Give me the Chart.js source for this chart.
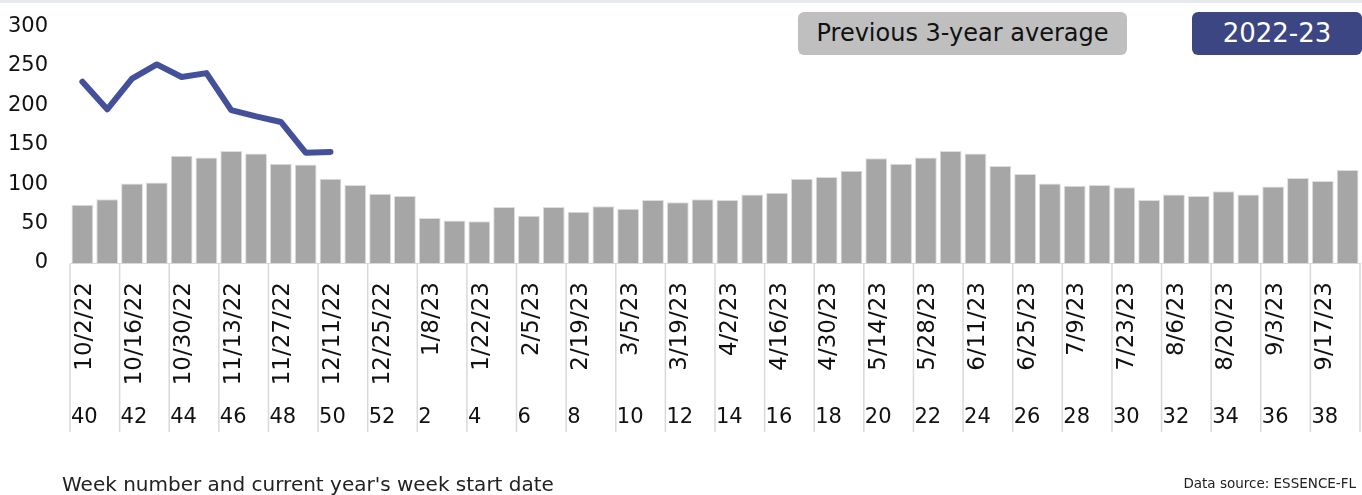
<!DOCTYPE html>
<html>
<head>
<meta charset="utf-8">
<script src="https://cdn.jsdelivr.net/npm/chart.js@4/dist/chart.umd.min.js"></script>
<style>
  html, body { margin: 0; padding: 0; background: #fff; }
  #wrap { position: relative; width: 1362px; height: 495px; overflow: hidden; }
  #topline { position: absolute; left: 0; top: 0; width: 1362px; height: 3px; background: #e6eaee; }
  canvas { position: absolute; left: 0; top: 0; }
  .key { position: absolute; top: 12px; height: 43px; border-radius: 6px; font-family: "DejaVu Sans", sans-serif;
         font-size: 24px; line-height: 43px; text-align: center; }
  #keyAvg { left: 798px; width: 329px; background: #bfbfbf; color: #111; }
  #keyCur { left: 1192px; width: 170px; background: #3b4683; color: #fff; font-size: 26px; }
  .note { position: absolute; font-family: "DejaVu Sans", sans-serif; color: #222; }
  #xtitle { left: 62px; top: 472px; font-size: 20px; }
  #source { right: 6px; top: 475px; font-size: 13.5px; }
</style>
</head>
<body>
<div id="wrap">
  <div id="topline"></div>
  <canvas id="flu-chart" width="1362" height="495"></canvas>
  <div class="key" id="keyAvg">Previous 3-year average</div>
  <div class="key" id="keyCur">2022-23</div>
  <div class="note" id="xtitle">Week number and current year's week start date</div>
  <div class="note" id="source">Data source: ESSENCE-FL</div>
</div>
<script>
var weekNumbers = [40, 41, 42, 43, 44, 45, 46, 47, 48, 49, 50, 51, 52,
  1, 2, 3, 4, 5, 6, 7, 8, 9, 10, 11, 12, 13, 14, 15, 16, 17, 18, 19, 20,
  21, 22, 23, 24, 25, 26, 27, 28, 29, 30, 31, 32, 33, 34, 35, 36, 37, 38, 39];

var weekDates = ["10/2/22", "10/9/22", "10/16/22", "10/23/22", "10/30/22", "11/6/22",
  "11/13/22", "11/20/22", "11/27/22", "12/4/22", "12/11/22", "12/18/22", "12/25/22",
  "1/1/23", "1/8/23", "1/15/23", "1/22/23", "1/29/23", "2/5/23", "2/12/23", "2/19/23",
  "2/26/23", "3/5/23", "3/12/23", "3/19/23", "3/26/23", "4/2/23", "4/9/23", "4/16/23",
  "4/23/23", "4/30/23", "5/7/23", "5/14/23", "5/21/23", "5/28/23", "6/4/23", "6/11/23",
  "6/18/23", "6/25/23", "7/2/23", "7/9/23", "7/16/23", "7/23/23", "7/30/23", "8/6/23",
  "8/13/23", "8/20/23", "8/27/23", "9/3/23", "9/10/23", "9/17/23", "9/24/23"];

// previous 3-year average (bars)
var prevAverage = [74, 81, 101, 102, 136, 134, 142, 139, 126, 125, 107, 99, 88,
  85, 57, 54, 53, 71, 60, 71, 65, 72, 69, 80, 77, 81, 80, 87, 89, 107, 109, 117,
  133, 126, 134, 142, 139, 123, 113, 101, 98, 99, 96, 80, 87, 85, 91, 87, 97, 108, 104, 118];

// current season so far (line)
var season2223 = [230, 195, 234, 252, 236, 241, 194, 186, 179, 140, 141];

var yTicks = [0, 50, 100, 150, 200, 250, 300];

var xLabelPlugin = {
  id: 'xLabels',
  afterDraw: function(chart) {
    var ctx = chart.ctx;
    var xs = chart.scales.x;
    var half = xs.width / weekNumbers.length / 2;
    var top = chart.chartArea.bottom;
    ctx.save();
    ctx.strokeStyle = '#d9d9d9';
    ctx.lineWidth = 1.5;
    for (var i = 0; i <= weekNumbers.length; i += 2) {
      var bx = i < weekNumbers.length ? xs.getPixelForValue(i) - half : xs.getPixelForValue(i - 1) + half;
      ctx.beginPath();
      ctx.moveTo(bx, top + 1);
      ctx.lineTo(bx, 432);
      ctx.stroke();
      if (i >= weekNumbers.length) continue;
      ctx.fillStyle = '#111';
      ctx.textBaseline = 'middle';
      ctx.font = '21px "DejaVu Sans", sans-serif';
      ctx.textAlign = 'left';
      ctx.fillText(String(weekNumbers[i]), bx + 1, 418);
      ctx.save();
      ctx.translate(bx + 15, 282);
      ctx.rotate(-Math.PI / 2);
      ctx.font = '23px "DejaVu Sans", sans-serif';
      ctx.textAlign = 'right';
      ctx.fillText(weekDates[i], 0, 0);
      ctx.restore();
    }
    ctx.restore();
  }
};

var ctx = document.getElementById("flu-chart").getContext("2d");
var fluChart = new Chart(ctx, {
  type: 'bar',
  data: {
    labels: weekNumbers,
    datasets: [
      {
        type: 'line',
        label: '2022-23',
        data: season2223,
        borderColor: '#44519a',
        borderWidth: 6,
        pointRadius: 0,
        borderCapStyle: 'round',
        borderJoinStyle: 'round',
        tension: 0,
        order: 0
      },
      {
        label: 'Previous 3-year average',
        data: prevAverage,
        backgroundColor: '#a6a6a6',
        borderColor: '#dedede',
        borderWidth: 1,
        barPercentage: 0.88,
        categoryPercentage: 1,
        order: 1
      }
    ]
  },
  options: {
    responsive: false,
    animation: false,
    layout: { padding: { top: 13, right: 2, left: 0, bottom: 0 } },
    plugins: {
      legend: { display: false },
      tooltip: { enabled: false }
    },
    scales: {
      x: {
        grid: { display: false },
        border: { display: true, color: '#d9d9d9' },
        ticks: { display: false },
        afterFit: function(scale) { scale.height = 232; }
      },
      y: {
        min: 0,
        max: 300,
        afterBuildTicks: function(scale) {
          scale.ticks = yTicks.map(function(v) { return { value: v }; });
        },
        grid: { display: false },
        border: { display: false },
        ticks: {
          color: '#111',
          font: { family: '"DejaVu Sans", sans-serif', size: 21 },
          padding: 14
        },
        afterFit: function(scale) { scale.width = 70; }
      }
    }
  },
  plugins: [xLabelPlugin]
});
</script>
</body>
</html>
